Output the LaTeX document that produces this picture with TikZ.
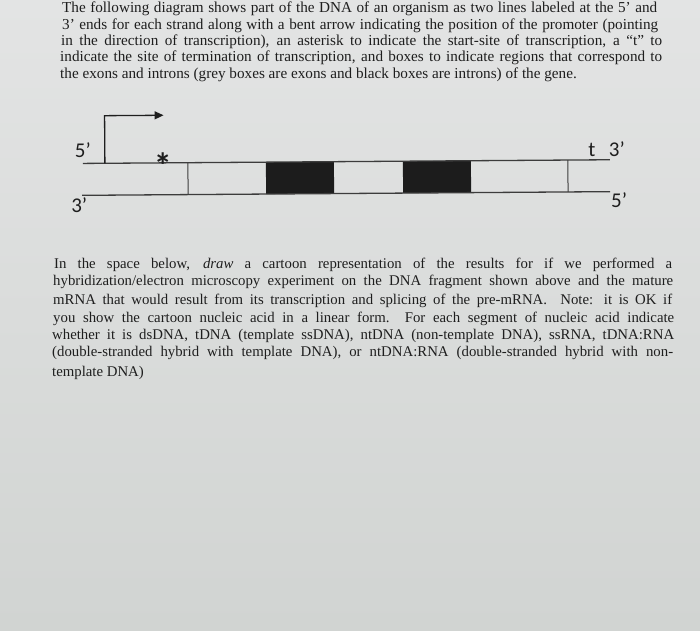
\documentclass[tikz,border=0pt]{standalone}
\usepackage{fontspec}
\setmainfont{Liberation Serif}
\newfontfamily\labelfont{Carlito}
\usetikzlibrary{arrows.meta}
\definecolor{ink}{HTML}{1E1E1E}
\definecolor{bgtop}{HTML}{E3E4E4}
\definecolor{bgbot}{HTML}{D1D4D2}
\definecolor{strandgrey}{HTML}{3C3C3C}
\definecolor{intron}{HTML}{1C1C1C}
\tikzset{
  textline/.style={anchor=base west, inner sep=0pt, text=ink, font=\fontsize{15.2}{16}\selectfont},
  textlineb/.style={anchor=base west, inner sep=0pt, text=ink, font=\fontsize{14.8}{16}\selectfont},
  strand/.style={draw=strandgrey, line width=1.3pt},
  boxedge/.style={draw=strandgrey, line width=1pt},
  intronbox/.style={fill=intron},
  endlabel/.style={inner sep=0pt, text=ink, font=\labelfont\fontsize{21}{24}\selectfont},
  promoter/.style={draw=ink, line width=1.3pt, -{Triangle[length=9pt,width=8pt]}}
}
\begin{document}
\begin{tikzpicture}[x=1pt,y=-1pt]
\shade[top color=bgtop,bottom color=bgbot] (0,0) rectangle (700,630);
\useasboundingbox (0,0) rectangle (700,630);

% top paragraph
\node[textline] (p1) at (62,12.5) {\makebox[595pt][s]{The following diagram shows part of the DNA of an organism as two lines labeled at the 5’ and}};
\node[textline] (p2) at (62,29) {\makebox[596pt][s]{3’ ends for each strand along with a bent arrow indicating the position of the promoter (pointing}};
\node[textline] (p3) at (61,45) {\makebox[601pt][s]{in the direction of transcription), an asterisk to indicate the start-site of transcription, a “t” to}};
\node[textline] (p4) at (60,61) {\makebox[602pt][s]{indicate the site of termination of transcription, and boxes to indicate regions that correspond to}};
\node[textline] (p5) at (60,78) {the exons and introns (grey boxes are exons and black boxes are introns) of the gene.};

% diagram
\begin{scope}[rotate around={0.4:(346,178)}]
  \coordinate (tl) at (83,161.6);
  \coordinate (tr) at (610,161.6);
  \coordinate (bl) at (82,193.5);
  \coordinate (br) at (610,193.5);
  \coordinate (e1t) at (188,161.6);
  \coordinate (e1b) at (188,193.5);
  \coordinate (e2t) at (568,161.6);
  \coordinate (e2b) at (568,193.5);
  \coordinate (pr0) at (105,161.6);
  \coordinate (pr1) at (105,114);
  \coordinate (pr2) at (164,114);
  \fill[intronbox] (266,161.6) rectangle (334,193.5);
  \fill[intronbox] (403,161.6) rectangle (471,193.5);
  \draw[strand] (tl) -- (tr);
  \draw[strand] (bl) -- (br);
  \draw[boxedge] (e1t) -- (e1b);
  \draw[boxedge] (e2t) -- (e2b);
  \draw[promoter] (pr0) -- (pr1) -- (pr2);
  \node[endlabel] (l5a) at (83,148.5) {5’};
  \node[endlabel] (l3a) at (79,203) {3’};
  \node[endlabel] (lt) at (592,151.5) {t};
  \node[endlabel] (l3b) at (617,151.5) {3’};
  \node[endlabel] (l5b) at (619,202) {5’};
  \node[endlabel, anchor=north, font=\labelfont\bfseries\fontsize{36}{38}\selectfont] (ast) at (163,151.5) {*};
\end{scope}

% bottom paragraph
\node[textlineb] (q1) at (54,268) {\makebox[618pt][s]{In the space below, \textit{draw} a cartoon representation of the results for if we performed a}};
\node[textlineb] (q2) at (53,285.5) {\makebox[620pt][s]{hybridization/electron microscopy experiment on the DNA fragment shown above and the mature}};
\node[textlineb] (q3) at (53,304) {\makebox[619pt][s]{mRNA that would result from its transcription and splicing of the pre-mRNA.\ \ Note: it is OK if}};
\node[textlineb] (q4) at (53,322) {\makebox[621pt][s]{you show the cartoon nucleic acid in a linear form.\ \ For each segment of nucleic acid indicate}};
\node[textlineb] (q5) at (52,339) {\makebox[622pt][s]{whether it is dsDNA, tDNA (template ssDNA), ntDNA (non-template DNA), ssRNA, tDNA:RNA}};
\node[textlineb] (q6) at (52,356) {\makebox[621pt][s]{(double-stranded hybrid with template DNA), or ntDNA:RNA (double-stranded hybrid with non-}};
\node[textlineb] (q7) at (52,376) {template DNA)};
\end{tikzpicture}
\end{document}
